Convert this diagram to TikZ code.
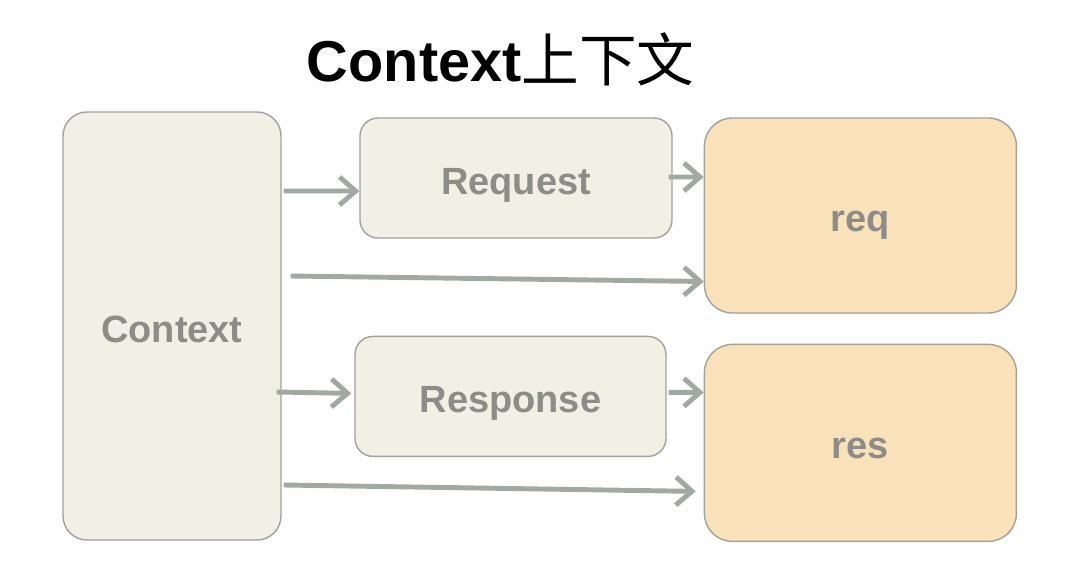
\documentclass[tikz,border=0pt]{standalone}
\usepackage{fontspec}
\setmainfont{Liberation Sans}
\newfontfamily\cjk{Noto Sans CJK SC}
\usetikzlibrary{positioning,arrows.meta,calc}

\definecolor{boxline}{HTML}{A3A19A}
\definecolor{paleFill}{HTML}{F2EFE4}
\definecolor{peachFill}{HTML}{F9E2BA}
\definecolor{labelgray}{HTML}{8C8C88}
\definecolor{arrowgray}{HTML}{A0AAA3}

\tikzset{
  box/.style={draw=boxline, line width=1pt, fill=paleFill, rounded corners=0.45cm,
    text=labelgray, font=\fontsize{27}{32}\selectfont\bfseries, inner sep=0pt,
    text height=1cm, text depth=0.2cm},
  peachbox/.style={box, fill=peachFill, rounded corners=0.7cm},
  link/.style={draw=arrowgray, line width=3.5pt, -{Straight Barb[length=0.4cm, width=0.7cm]}}
}

\begin{document}
\begin{tikzpicture}
\useasboundingbox (0,0) rectangle (26.9,-14.55);
\node (title) [anchor=base west, font=\fontsize{41}{48}\selectfont\bfseries] at (7.55,-2.05) {Context{\cjk\mdseries 上下文}};
\node (ctx) at (4.3,-8.15) [box, rounded corners=0.6cm, minimum width=5.45cm, minimum height=10.7cm] {Context};
\node (Request) at (12.9,-4.45) [box, minimum width=7.8cm, minimum height=3cm] {Request};
\node (req) [peachbox, right=0.775cm of Request.north east, anchor=north west, minimum width=7.8cm, minimum height=4.875cm] {req};
\node (res) [peachbox, below=0.75cm of req, minimum width=7.8cm, minimum height=4.925cm] {res};
\node (Response) [box, left=0.925cm of res.north west, anchor=north east, yshift=0.2cm, minimum width=7.775cm, minimum height=3cm] {Response};
\draw[link] ([xshift=0.05cm, yshift=3.375cm]ctx.east) -- ([yshift=-0.325cm]Request.west);
\draw[link] ([xshift=-0.1cm, yshift=0.025cm]Request.east) -- ([yshift=0.9625cm]req.west);
\draw[link] ([xshift=0.225cm, yshift=1.25cm]ctx.east) -- ([yshift=-1.65cm]req.west);
\draw[link] ([xshift=-0.125cm, yshift=-1.65cm]ctx.east) -- ([xshift=-0.075cm, yshift=0.075cm]Response.west);
\draw[link] ([xshift=0.05cm, yshift=0.1cm]Response.east) -- ([yshift=1.2625cm]res.west);
\draw[link] ([xshift=0.05cm, yshift=-3.975cm]ctx.east) -- ([xshift=-0.2cm, yshift=-1.2125cm]res.west);
\end{tikzpicture}
\end{document}
